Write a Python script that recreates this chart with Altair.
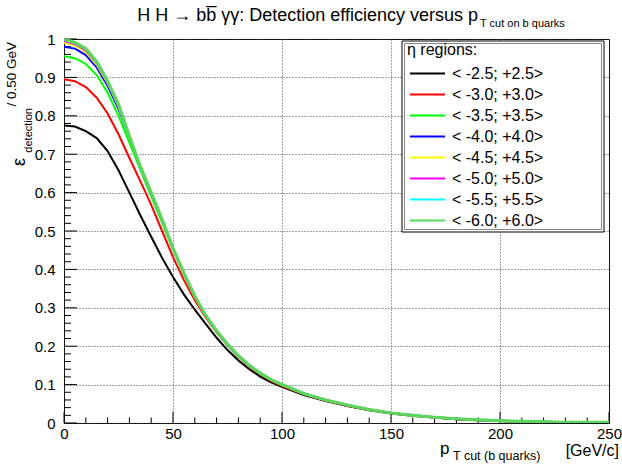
import altair as alt
import pandas as pd

# ---- data ----
pt = [0, 5, 10, 15, 20, 25, 30, 35, 40, 45, 50, 55, 60, 65, 70, 75, 80, 85, 90, 95, 100,
      110, 120, 130, 140, 150, 160, 170, 180, 190, 200, 210, 220, 230, 240, 250]

eta25 = [0.775, 0.772, 0.760, 0.742, 0.708, 0.658, 0.600, 0.541, 0.485, 0.430, 0.380, 0.335,
         0.295, 0.258, 0.222, 0.190, 0.163, 0.140, 0.121, 0.106, 0.094, 0.073, 0.057, 0.044,
         0.033, 0.025, 0.019, 0.014, 0.010, 0.007, 0.005, 0.003, 0.002, 0.0015, 0.001, 0.001]
eta30 = [0.895, 0.890, 0.875, 0.847, 0.806, 0.752, 0.690, 0.630, 0.568, 0.500, 0.432, 0.372,
         0.320, 0.275, 0.236, 0.202, 0.172, 0.147, 0.127, 0.110, 0.097, 0.075, 0.058, 0.045,
         0.034, 0.026, 0.019, 0.014, 0.010, 0.007, 0.005, 0.003, 0.002, 0.0015, 0.001, 0.001]
eta35 = [0.955, 0.950, 0.935, 0.906, 0.860, 0.800, 0.730, 0.660, 0.590, 0.522, 0.452, 0.388,
         0.328, 0.280, 0.238, 0.203, 0.173, 0.149, 0.129, 0.112, 0.099, 0.076, 0.059, 0.046,
         0.035, 0.026, 0.020, 0.015, 0.011, 0.008, 0.006, 0.004, 0.003, 0.002, 0.002, 0.0015]
eta40 = [0.980, 0.975, 0.958, 0.926, 0.878, 0.818, 0.745, 0.667, 0.598, 0.528, 0.455, 0.390,
         0.330, 0.280, 0.240, 0.205, 0.175, 0.150, 0.130, 0.113, 0.100, 0.077, 0.060, 0.047,
         0.035, 0.026, 0.020, 0.015, 0.011, 0.008, 0.006, 0.004, 0.003, 0.002, 0.002, 0.0015]
eta45 = [0.990, 0.983, 0.966, 0.933, 0.885, 0.824, 0.747, 0.668, 0.599, 0.529, 0.455, 0.390,
         0.330, 0.280, 0.240, 0.205, 0.175, 0.150, 0.130, 0.113, 0.100, 0.077, 0.060, 0.047,
         0.035, 0.026, 0.020, 0.015, 0.011, 0.008, 0.006, 0.004, 0.003, 0.002, 0.002, 0.0015]
eta50 = [0.995, 0.987, 0.970, 0.937, 0.888, 0.826, 0.747, 0.668, 0.600, 0.530, 0.455, 0.390,
         0.330, 0.280, 0.240, 0.205, 0.175, 0.150, 0.130, 0.113, 0.100, 0.077, 0.060, 0.047,
         0.035, 0.026, 0.020, 0.015, 0.011, 0.008, 0.006, 0.004, 0.003, 0.002, 0.002, 0.0015]
eta55 = [0.998, 0.989, 0.973, 0.939, 0.889, 0.828, 0.747, 0.668, 0.600, 0.530, 0.455, 0.390,
         0.330, 0.280, 0.240, 0.205, 0.175, 0.150, 0.130, 0.113, 0.100, 0.077, 0.060, 0.047,
         0.035, 0.026, 0.020, 0.015, 0.011, 0.008, 0.006, 0.004, 0.003, 0.002, 0.002, 0.0015]
eta60 = [1.000, 0.991, 0.975, 0.941, 0.890, 0.829, 0.747, 0.668, 0.600, 0.530, 0.455, 0.390,
         0.330, 0.280, 0.240, 0.205, 0.175, 0.150, 0.130, 0.113, 0.100, 0.077, 0.060, 0.047,
         0.035, 0.026, 0.020, 0.015, 0.011, 0.008, 0.006, 0.004, 0.003, 0.002, 0.002, 0.0015]

regions = ["< -2.5; +2.5>", "< -3.0; +3.0>", "< -3.5; +3.5>", "< -4.0; +4.0>",
           "< -4.5; +4.5>", "< -5.0; +5.0>", "< -5.5; +5.5>", "< -6.0; +6.0>"]
series = [eta25, eta30, eta35, eta40, eta45, eta50, eta55, eta60]
colors = ["#000000", "#ff0000", "#00ff00", "#0000ff", "#ffff00", "#ff00ff", "#00ffff", "#5cd65c"]

x_major = [0, 50, 100, 150, 200, 250]
x_minor = [10, 20, 30, 40, 60, 70, 80, 90, 110, 120, 130, 140, 160, 170, 180, 190,
           210, 220, 230, 240]
y_major = [0, 0.1, 0.2, 0.3, 0.4, 0.5, 0.6, 0.7, 0.8, 0.9, 1.0]
y_minor = [0.02, 0.04, 0.06, 0.08, 0.12, 0.14, 0.16, 0.18, 0.22, 0.24, 0.26, 0.28,
           0.32, 0.34, 0.36, 0.38, 0.42, 0.44, 0.46, 0.48, 0.52, 0.54, 0.56, 0.58,
           0.62, 0.64, 0.66, 0.68, 0.72, 0.74, 0.76, 0.78, 0.82, 0.84, 0.86, 0.88,
           0.92, 0.94, 0.96, 0.98]

FONT = "Liberation Sans"
W, H = 545, 384

rows = []
for r, vals in zip(regions, series):
    for x, v in zip(pt, vals):
        rows.append({"pt": x, "eff": v, "region": r})
df = pd.DataFrame(rows)

xs = alt.Scale(domain=[0, 250], nice=False, zero=False)
ys = alt.Scale(domain=[0, 1], nice=False, zero=False)

base = alt.Chart(df)

main_x_axis = alt.Axis(orient="bottom", values=x_major, grid=True, gridDash=[1, 2],
                       gridColor="#444444", gridWidth=1, ticks=False, domain=False,
                       labelFontSize=15, labelFont=FONT, labelColor="black",
                       labelPadding=3, labelFlush=False, title=None)
main_y_axis = alt.Axis(orient="left", values=y_major, format=".1~f", grid=True,
                       gridDash=[1, 2], gridColor="#444444", gridWidth=1, ticks=False,
                       domain=False, labelFontSize=15, labelFont=FONT, labelColor="black",
                       labelPadding=9, labelFlush=False, title=None)

lines = base.transform_filter(alt.datum.region != regions[-1]).mark_line(
    strokeWidth=2, clip=True).encode(
    x=alt.X("pt:Q", scale=xs, axis=main_x_axis),
    y=alt.Y("eff:Q", scale=ys, axis=main_y_axis),
    color=alt.Color("region:N", scale=alt.Scale(domain=regions, range=colors), legend=None),
)

top_line = base.transform_filter(alt.datum.region == regions[-1]).mark_line(
    strokeWidth=3.2, clip=True, color=colors[-1]).encode(
    x=alt.X("pt:Q", scale=xs, axis=None),
    y=alt.Y("eff:Q", scale=ys, axis=None),
)


# inner tick marks, placed through the scales
def xticks(vals, length):
    return alt.Chart(pd.DataFrame({"v": vals})).mark_rule(color="black", strokeWidth=1).encode(
        x=alt.X("v:Q", scale=xs, axis=None), y=alt.value(H - length), y2=alt.value(H))


def yticks(vals, length):
    return alt.Chart(pd.DataFrame({"v": vals})).mark_rule(color="black", strokeWidth=1).encode(
        y=alt.Y("v:Q", scale=ys, axis=None), x=alt.value(0), x2=alt.value(length))


tick_layers = [xticks(x_major, 11), xticks(x_minor, 5.5), yticks(y_major, 13),
               yticks(y_minor, 7)]

one = pd.DataFrame({"k": [0]})


def text(t, x, y, size, align="left", angle=0, baseline="alphabetic"):
    return alt.Chart(one).mark_text(text=t, font=FONT, fontSize=size, align=align,
                                    baseline=baseline, angle=angle, color="black").encode(
        x=alt.value(x), y=alt.value(y))


# legend box
leg_x0, leg_x1, leg_y0, leg_y1 = 338, 540, 2, 193
legend_bg = alt.Chart(one).mark_rect(fill="white", stroke="black", strokeWidth=1).encode(
    x=alt.value(leg_x0), x2=alt.value(leg_x1), y=alt.value(leg_y0), y2=alt.value(leg_y1))
legend_inner = alt.Chart(one).mark_rect(fill="white", stroke="#888888", strokeWidth=1).encode(
    x=alt.value(leg_x0 + 2.5), x2=alt.value(leg_x1 - 2.5), y=alt.value(leg_y0 + 2.5),
    y2=alt.value(leg_y1 - 2.5))

legend_layers = [legend_bg, legend_inner, text("\u03b7 regions:", 343, 16, 16)]
for i, (r, c) in enumerate(zip(regions, colors)):
    yy = 34.5 + 21 * i
    legend_layers.append(
        alt.Chart(one).mark_rule(color=c, strokeWidth=2).encode(
            x=alt.value(346), x2=alt.value(381), y=alt.value(yy)))
    legend_layers.append(text(r, 388, yy, 16, baseline="middle"))

titles = [
    text("H H \u2192 bb\u0305 \u03b3\u03b3: Detection efficiency versus  p", 414, -18.5, 18,
         align="right"),
    text("T cut on b quarks", 416, -12.5, 11),
    text("p", 376, 415, 17),
    text("T cut (b quarks)", 389, 421, 12.5),
    text("[GeV/c]", 555, 417, 16, align="right"),
    text("/ 0.50 GeV", -48.5, 3, 13.5, align="right", angle=270),
    text("detection", -32, 69, 11, align="right", angle=270),
    text("\u03b5", -39, 127, 18, align="left", angle=270),
]

chart = alt.layer(
    *tick_layers, lines, top_line, *legend_layers, *titles
).resolve_axis(x="independent", y="independent").properties(
    width=W, height=H,
    autosize=alt.AutoSizeParams(type="none"),
    padding={"left": 64, "top": 39, "right": 13, "bottom": 44},
    background="white",
).configure_view(stroke="black", strokeWidth=1)

chart.save("out.html", embed_options={"renderer": "svg", "actions": False})
